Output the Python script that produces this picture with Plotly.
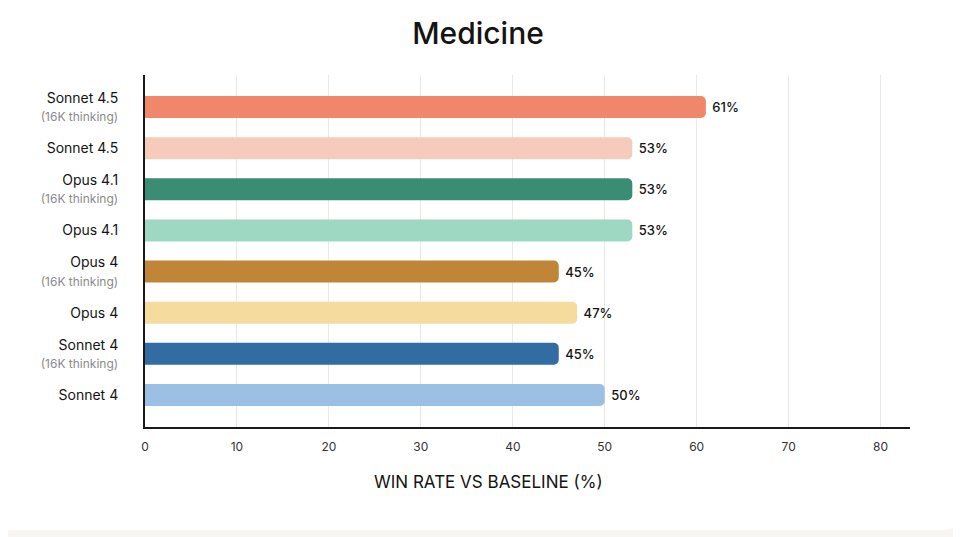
import plotly.graph_objects as go

models = ["Sonnet 4.5", "Sonnet 4.5", "Opus 4.1", "Opus 4.1", "Opus 4", "Opus 4", "Sonnet 4", "Sonnet 4"]
thinking = [True, False, True, False, True, False, True, False]
win_rate = [61, 53, 53, 53, 45, 47, 45, 50]
colors = ["#F0876A", "#F5CBBB", "#3A8C73", "#9ED8C3", "#C08536", "#F5DB9E", "#336CA3", "#9BC0E3"]
x_ticks = [0, 10, 20, 30, 40, 50, 60, 70, 80]

labels = []
for m, t in zip(models, thinking):
    if t:
        labels.append(f"{m}<br><span style='font-size:12px;color:#8a8a8a'>(16K thinking)</span>")
    else:
        labels.append(m)

ids = list(range(len(models)))

fig = go.Figure(go.Bar(
    x=win_rate, y=ids, orientation="h",
    marker=dict(color=colors, line=dict(width=0)),
    width=0.535,
    text=[f"\u00a0{v}%" for v in win_rate], textposition="outside",
    textfont=dict(size=13, color="#141413", family="Inter", weight=500),
    cliponaxis=False,
))

# page body adds an 8px offset, so the figure is 8px smaller than the window
W, H = 953, 529
L, R, T, B = 137, 51, 67, 110
pw, ph = W - L - R, H - T - B

def px_x(p):
    return (p - L) / pw

def px_y(p):
    return (H - B - p) / ph

r = 12
x0, x1, y0, y1 = -30, 949, -30, 522
path = (f"M {px_x(x0)},{px_y(y0)} L {px_x(x1)},{px_y(y0)} "
        f"L {px_x(x1)},{px_y(y1 - r)} Q {px_x(x1)},{px_y(y1)} {px_x(x1 - r)},{px_y(y1)} "
        f"L {px_x(x0)},{px_y(y1)} Z")

fig.update_layout(
    width=W, height=H,
    margin=dict(l=L, r=R, t=T, b=B),
    paper_bgcolor="#F7F6F2",
    plot_bgcolor="rgba(0,0,0,0)",
    barcornerradius=5,
    showlegend=False,
    font=dict(family="Inter", color="#141413"),
    title=dict(text="Medicine", x=470 / W, xref="container", y=1 - 25 / H, yref="container",
               xanchor="center", yanchor="middle",
               font=dict(size=30, family="Inter", color="#141413", weight=500)),
    shapes=[dict(type="path", path=path, xref="paper", yref="paper",
                 fillcolor="#FFFFFF", line=dict(width=0), layer="below")],
    annotations=[dict(text="WIN RATE VS BASELINE (%)", x=px_x(480), xref="paper", y=px_y(474),
                      yref="paper", showarrow=False, xanchor="center", yanchor="middle",
                      font=dict(size=17, color="#141413", family="Inter"))],
    xaxis=dict(range=[0, 83.2], tickvals=x_ticks, showgrid=True, gridcolor="#ECE9E2", gridwidth=1,
               showline=True, linecolor="#1a1a1a", linewidth=2, zeroline=False,
               ticks="", tickfont=dict(size=12, color="#333333", family="Inter"),
               ticklabelstandoff=8, fixedrange=True),
    yaxis=dict(range=[7.78, -0.78], tickvals=ids, ticktext=labels, showgrid=False,
               showline=True, linecolor="#1a1a1a", linewidth=2, zeroline=False,
               ticks="", tickfont=dict(size=14, color="#141413", family="Inter"),
               ticklabelstandoff=22),
)

fig.write_html("out.html")
